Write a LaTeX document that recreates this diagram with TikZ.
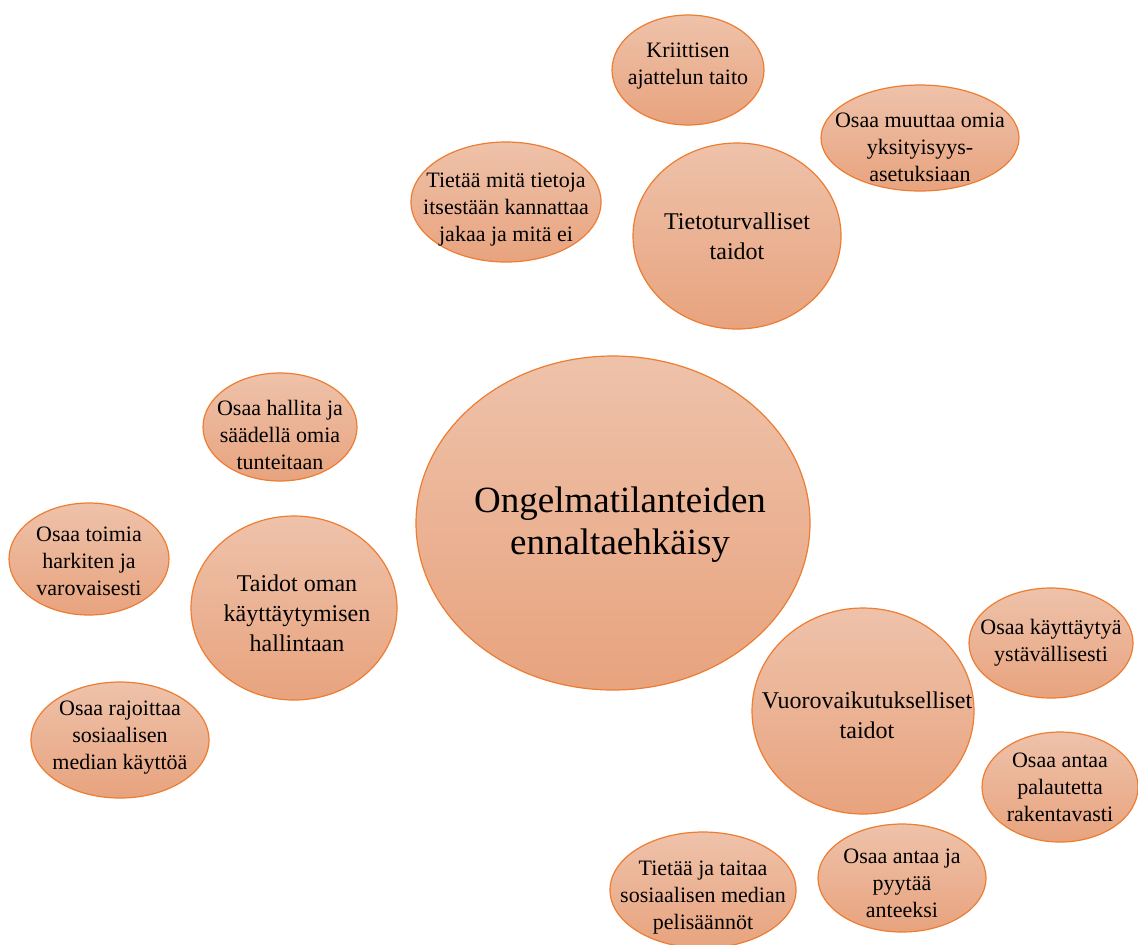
\documentclass[tikz,border=0pt]{standalone}
\usepackage{fontspec}
\setmainfont{Liberation Serif}
\usetikzlibrary{shapes.geometric}
\definecolor{bubtop}{RGB}{238,194,170}
\definecolor{bubbot}{RGB}{232,163,126}
\definecolor{bubline}{RGB}{237,125,49}
\tikzset{
  bubble/.style={ellipse,draw=bubline,line width=0.6pt,top color=bubtop,bottom color=bubbot,inner sep=0pt},
  small/.style={align=center,font=\fontsize{11}{13.5}\selectfont},
  mid/.style={align=center,font=\fontsize{12}{15}\selectfont},
  big/.style={align=center,font=\fontsize{18.5}{21}\selectfont}
}
\begin{document}
\begin{tikzpicture}[x=0.5pt,y=-0.5pt]
\useasboundingbox (0,0) rectangle (1138,944);
% bubbles: name/x/y/rx/ry (pixels)
\foreach \n/\x/\y/\a/\b in {main/613/523/197/167,
  tieto/737/236/104/93, kriit/688/70/76/55, muut/920/138/99/53, jaka/506/202/95/60,
  vuoro/863/711/111/103, kayt/1051/643/82/55, pala/1060/787/78/55, pyyt/902/878/84/54, peli/703/890/93/58,
  oman/294/608/103/92, hall/280/427/77/54, toim/89/559/80/56, rajo/120/740/89/58}
  \node[bubble,minimum width=\a pt,minimum height=\b pt] (\n) at (\x,\y) {};
% texts
\node[big] (main-t) at ([xshift=3.5pt,yshift=-1pt]main) {Ongelmatilanteiden\\ennaltaehkäisy};
\node[mid] (tieto-t) at (tieto) {Tietoturvalliset\\taidot};
\node[small] (kriit-t) at ([yshift=2pt]kriit) {Kriittisen\\ajattelun taito};
\node[small] (muut-t) at ([yshift=-4.5pt]muut) {Osaa muuttaa omia\\yksityisyys-\\asetuksiaan};
\node[small] (jaka-t) at ([yshift=-4pt]jaka) {Tietää mitä tietoja\\itsestään kannattaa\\jakaa ja mitä ei};
\node[mid] (vuoro-t) at ([xshift=2pt,yshift=-2pt]vuoro) {Vuorovaikutukselliset\\taidot};
\node[small] (kayt-t) at (kayt) {Osaa käyttäytyä\\ystävällisesti};
\node[small] (pala-t) at (pala) {Osaa antaa\\palautetta\\rakentavasti};
\node[small] (pyyt-t) at ([yshift=-2.5pt]pyyt) {Osaa antaa ja\\pyytää\\anteeksi};
\node[small] (peli-t) at ([yshift=-4pt]peli) {Tietää ja taitaa\\sosiaalisen median\\pelisäännöt};
\node[mid] (oman-t) at ([xshift=1.5pt,yshift=-2.5pt]oman) {Taidot oman\\käyttäytymisen\\hallintaan};
\node[small] (hall-t) at ([yshift=-4pt]hall) {Osaa hallita ja\\säädellä omia\\tunteitaan};
\node[small] (toim-t) at ([yshift=-1pt]toim) {Osaa toimia\\harkiten ja\\varovaisesti};
\node[small] (rajo-t) at ([yshift=1pt]rajo) {Osaa rajoittaa\\sosiaalisen\\median käyttöä};
\end{tikzpicture}
\end{document}
